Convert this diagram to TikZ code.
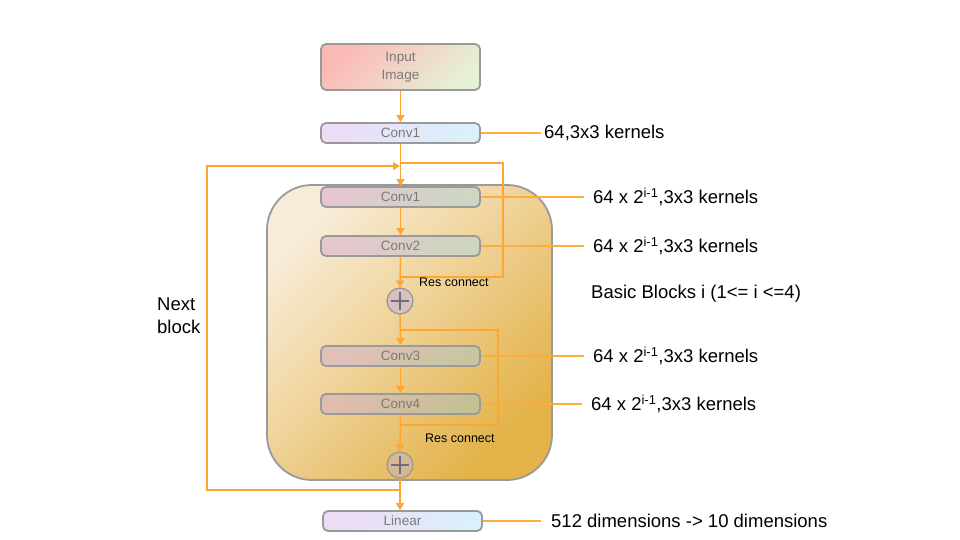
\documentclass[tikz,border=0pt]{standalone}
\usepackage{fontspec}
\setmainfont{Liberation Sans}
\usetikzlibrary{arrows.meta,shapes.geometric}
\definecolor{ora}{HTML}{FFA630}
\definecolor{oral}{HTML}{FCAE3C}
\definecolor{bord}{HTML}{9A9A9A}
\definecolor{btxt}{HTML}{7A7A7A}
\definecolor{blkA}{RGB}{248,236,216}
\definecolor{blkB}{RGB}{227,178,72}
\definecolor{inA}{RGB}{251,185,181}
\definecolor{inB}{RGB}{230,240,214}
\definecolor{lvA}{RGB}{236,220,246}
\definecolor{lvB}{RGB}{218,240,251}
\definecolor{c1A}{RGB}{228,198,207}
\definecolor{c1B}{RGB}{205,215,196}
\definecolor{c2A}{RGB}{228,198,207}
\definecolor{c2B}{RGB}{205,213,190}
\definecolor{c3A}{RGB}{226,192,186}
\definecolor{c3B}{RGB}{200,198,160}
\definecolor{c4A}{RGB}{223,187,176}
\definecolor{c4B}{RGB}{197,192,148}
\definecolor{p1F}{RGB}{214,192,192}
\definecolor{p2F}{RGB}{213,184,148}
\definecolor{plusC}{RGB}{110,110,130}
\begin{document}
\begin{tikzpicture}[x=1pt,y=-1pt,
  box/.style={draw=bord,line width=1.8pt,rounded corners=5pt,minimum width=159pt,minimum height=20pt,inner sep=0pt,
    font=\fontsize{13.5}{16}\selectfont,text=btxt},
  plusc/.style={circle,draw=bord,line width=1.3pt,minimum size=26pt,inner sep=0pt},
  pluss/.style={line width=1.2pt,draw=plusC},
  flow/.style={draw=ora,line width=1.4pt},
  arr/.style={flow,-{Triangle[width=8pt,length=7pt]}},
  lab/.style={draw=oral,line width=1.2pt},
  txt/.style={anchor=west,inner sep=0pt,font=\fontsize{18.5}{23}\selectfont,text=black},
  rtxt/.style={anchor=west,inner sep=0pt,font=\fontsize{12.5}{15}\selectfont,text=black}]
\useasboundingbox[fill=white] (0,0) rectangle (960,540);

% big block
\node[draw=bord,line width=1.8pt,rounded corners=45pt,minimum width=285pt,minimum height=295pt,
  top color=blkA,bottom color=blkB,shading angle=45,inner sep=0pt]
  (block) at (409.5,332.5) {};

% boxes
\node[box,minimum height=46pt,top color=inA,bottom color=inB,shading angle=45,align=center,
  font=\fontsize{13.5}{18}\selectfont] (inimg) at (400.5,67) {Input\\Image};
\node[box,top color=lvA,bottom color=lvB,shading angle=45] (c0) at (400.5,133) {Conv1};
\node[box,top color=c1A,bottom color=c1B,shading angle=45] (c1) at (400.5,197) {Conv1};
\node[box,top color=c2A,bottom color=c2B,shading angle=45] (c2) at (400.5,246) {Conv2};
\node[box,top color=c3A,bottom color=c3B,shading angle=45] (c3) at (400.5,356) {Conv3};
\node[box,top color=c4A,bottom color=c4B,shading angle=45] (c4) at (400.5,404) {Conv4};
\node[box,top color=lvA,bottom color=lvB,shading angle=45] (lin) at (402.5,521) {Linear};

\node[plusc,fill=p1F] (p1) at (400,301) {};
\node[plusc,fill=p2F] (p2) at (400,465) {};
\draw[pluss] ([xshift=-9pt]p1.center) -- ([xshift=9pt]p1.center) ([yshift=-9pt]p1.center) -- ([yshift=9pt]p1.center);
\draw[pluss] ([xshift=-9pt]p2.center) -- ([xshift=9pt]p2.center) ([yshift=-9pt]p2.center) -- ([yshift=9pt]p2.center);

% coordinates
\coordinate (r1s) at (400,163);
\coordinate (r1a) at (503,163);
\coordinate (r1b) at (503,277);
\coordinate (r1e) at (400,277);
\coordinate (r2s) at (400,330);
\coordinate (r2a) at (498,330);
\coordinate (r2b) at (498,425);
\coordinate (r2e) at (400,425);
\coordinate (nb0) at (400,490);
\coordinate (nb1) at (207,490);
\coordinate (nb2) at (207,166);
\coordinate (nb3) at (400,166);

% flow
\draw[arr] (inimg.south) -- (c0.north);
\draw[arr] (c0.south) -- (c1.north);
\draw[arr] (c1.south) -- (c2.north);
\draw[arr] (c2.south) -- (p1.north);
\draw[arr] (p1.south) -- (c3.north);
\draw[arr] (c3.south) -- (c4.north);
\draw[arr] (c4.south) -- (p2.north);
\draw[arr] (p2.south) -- (p2.south |- lin.north);
\draw[flow] (r1s) -- (r1a) -- (r1b) -- (r1e);
\draw[flow] (r2s) -- (r2a) -- (r2b) -- (r2e);
\draw[arr] (nb0) -- (nb1) -- (nb2) -- (nb3);

% label lines and texts
\node[txt] (t0) at (544,133) {64,3x3 kernels};
\node[txt] (t1) at (593,197) {64 x 2\textsuperscript{i-1},3x3 kernels};
\node[txt] (t2) at (593,246) {64 x 2\textsuperscript{i-1},3x3 kernels};
\node[txt] (t3) at (593,356) {64 x 2\textsuperscript{i-1},3x3 kernels};
\node[txt] (t4) at (591,404) {64 x 2\textsuperscript{i-1},3x3 kernels};
\node[txt] (t5) at (551,521) {512 dimensions -> 10 dimensions};
\node[txt] (tb) at (591,294) {Basic Blocks i (1<= i <=4)};
\node[txt,align=left] (tn) at (157,315.5) {Next\\block};
\node[rtxt] (rc1) at (419,282) {Res connect};
\node[rtxt] (rc2) at (425,438) {Res connect};

\draw[lab] (c0.east) -- ++(60,0);
\draw[lab] (c1.east) -- ++(103,0);
\draw[lab] (c2.east) -- ++(103,0);
\draw[lab] (c3.east) -- ++(103,0);
\draw[lab] (c4.east) -- ++(101,0);
\draw[lab] (lin.east) -- ++(58,0);
\end{tikzpicture}
\end{document}
